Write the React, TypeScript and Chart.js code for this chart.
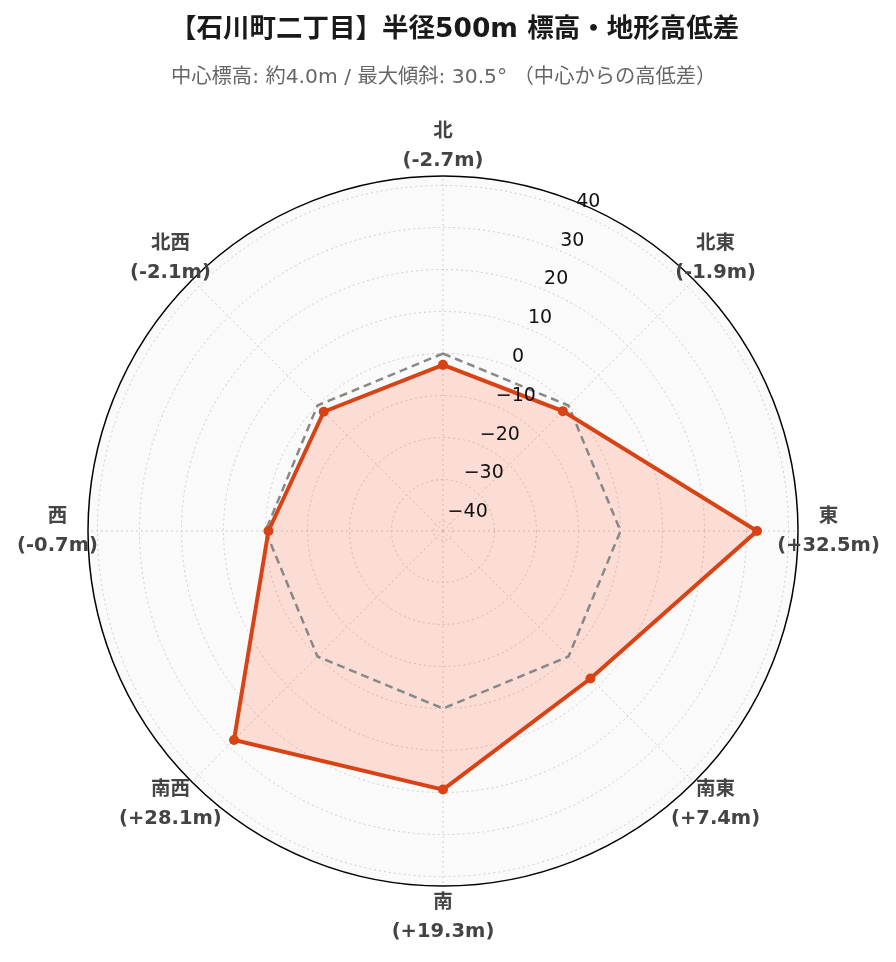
import React, { useEffect, useRef } from "react";
import { Chart, registerables } from "chart.js";

Chart.register(...registerables);

const directions = ["北", "北東", "東", "南東", "南", "南西", "西", "北西"];
const diffs = [-2.7, -1.9, 32.5, 7.4, 19.3, 28.1, -0.7, -2.1];
const baseline = [0, 0, 0, 0, 0, 0, 0, 0];
const radialTicks = [-40, -30, -20, -10, 0, 10, 20, 30, 40];
const radialMax = 42.25;
const titleText = "【石川町二丁目】半径500m 標高・地形高低差";
const subtitleText = "中心標高: 約4.0m / 最大傾斜: 30.5° （中心からの高低差）";

const FONT = "'DejaVu Sans', 'Noto Sans CJK JP', sans-serif";

const fmtDiff = (v: number) => `(${v >= 0 ? "+" : ""}${v.toFixed(1)}m)`;
const fmtTick = (v: number) => (v < 0 ? "\u2212" + Math.abs(v) : String(v));

const overlayPlugin = {
  id: "overlay",
  afterDatasetsDraw(chart: any) {
    const scale = chart.scales.r;
    const ctx = chart.ctx;
    ctx.save();

    // outer circle
    ctx.beginPath();
    ctx.arc(scale.xCenter, scale.yCenter, scale.getDistanceFromCenterForValue(radialMax), 0, Math.PI * 2);
    ctx.strokeStyle = "#000";
    ctx.lineWidth = 1.5;
    ctx.stroke();

    // radial tick labels along 22.5deg axis
    ctx.font = `19px ${FONT}`;
    ctx.fillStyle = "#111";
    ctx.textAlign = "left";
    ctx.textBaseline = "middle";
    const a = -Math.PI / 2 + Math.PI / 8;
    radialTicks.forEach((v) => {
      const d = scale.getDistanceFromCenterForValue(v);
      const x = scale.xCenter + Math.cos(a) * d;
      const y = scale.yCenter + Math.sin(a) * d;
      ctx.fillText(fmtTick(v), x + 1, y - 10);
    });

    // point labels
    ctx.font = `bold 19.5px ${FONT}`;
    ctx.fillStyle = "#444";
    ctx.textAlign = "center";
    directions.forEach((name, i) => {
      const p = scale.getPointPosition(i, scale.drawingArea + 30.5);
      ctx.fillText(name, p.x, p.y - 14);
      ctx.fillText(fmtDiff(diffs[i]), p.x, p.y + 15);
    });

    // title & subtitle
    ctx.textAlign = "left";
    ctx.font = `bold 26.5px ${FONT}`;
    ctx.fillStyle = "#1a1a1a";
    ctx.fillText(titleText, 162, 22);
    ctx.font = `20.3px ${FONT}`;
    ctx.fillStyle = "#666";
    ctx.fillText(subtitleText, 163, 70);

    ctx.restore();
  },
};

export default function App() {
  const canvasRef = useRef<HTMLCanvasElement | null>(null);

  useEffect(() => {
    const canvas = canvasRef.current;
    if (!canvas) return;
    const chart = new Chart(canvas, {
      type: "radar",
      data: {
        labels: directions,
        datasets: [
          {
            label: "高低差",
            data: diffs,
            borderColor: "#D84315",
            backgroundColor: "rgba(255, 80, 30, 0.17)",
            borderWidth: 4,
            pointRadius: 5,
            pointBackgroundColor: "#D84315",
            pointBorderColor: "#D84315",
            pointBorderWidth: 0,
            fill: "start",
            tension: 0,
          },
          {
            label: "中心",
            data: baseline,
            borderColor: "#888888",
            borderWidth: 2.5,
            borderDash: [8, 5],
            pointRadius: 0,
            fill: false,
          },
        ],
      },
      options: {
        responsive: true,
        maintainAspectRatio: false,
        animation: false,
        layout: { padding: { left: 80, right: 90, top: 168, bottom: 68 } },
        plugins: {
          legend: { display: false },
          tooltip: { enabled: false },
          title: { display: false },
          filler: { drawTime: "beforeDatasetsDraw" },
        },
        scales: {
          r: {
            min: -radialMax,
            max: radialMax,
            backgroundColor: "#fafafa",
            afterBuildTicks: (s: any) => {
              s.ticks = [-radialMax, ...radialTicks, radialMax].map((value) => ({ value }));
            },
            ticks: { display: false },
            pointLabels: { display: false },
            grid: {
              circular: true,
              color: (c: any) =>
                c.tick && (c.tick.value === radialMax || c.tick.value === -radialMax)
                  ? "rgba(0,0,0,0)"
                  : "#cfcfcf",
              lineWidth: 1,
            },
            border: { dash: [2, 3] },
            angleLines: { color: "#cfcfcf", lineWidth: 1, borderDash: [2, 3] },
          },
        },
      } as any,
      plugins: [overlayPlugin],
    });
    return () => chart.destroy();
  }, []);

  return (
    <div style={{ position: "relative", width: 880, height: 946 }}>
      <canvas ref={canvasRef} />
    </div>
  );
}
